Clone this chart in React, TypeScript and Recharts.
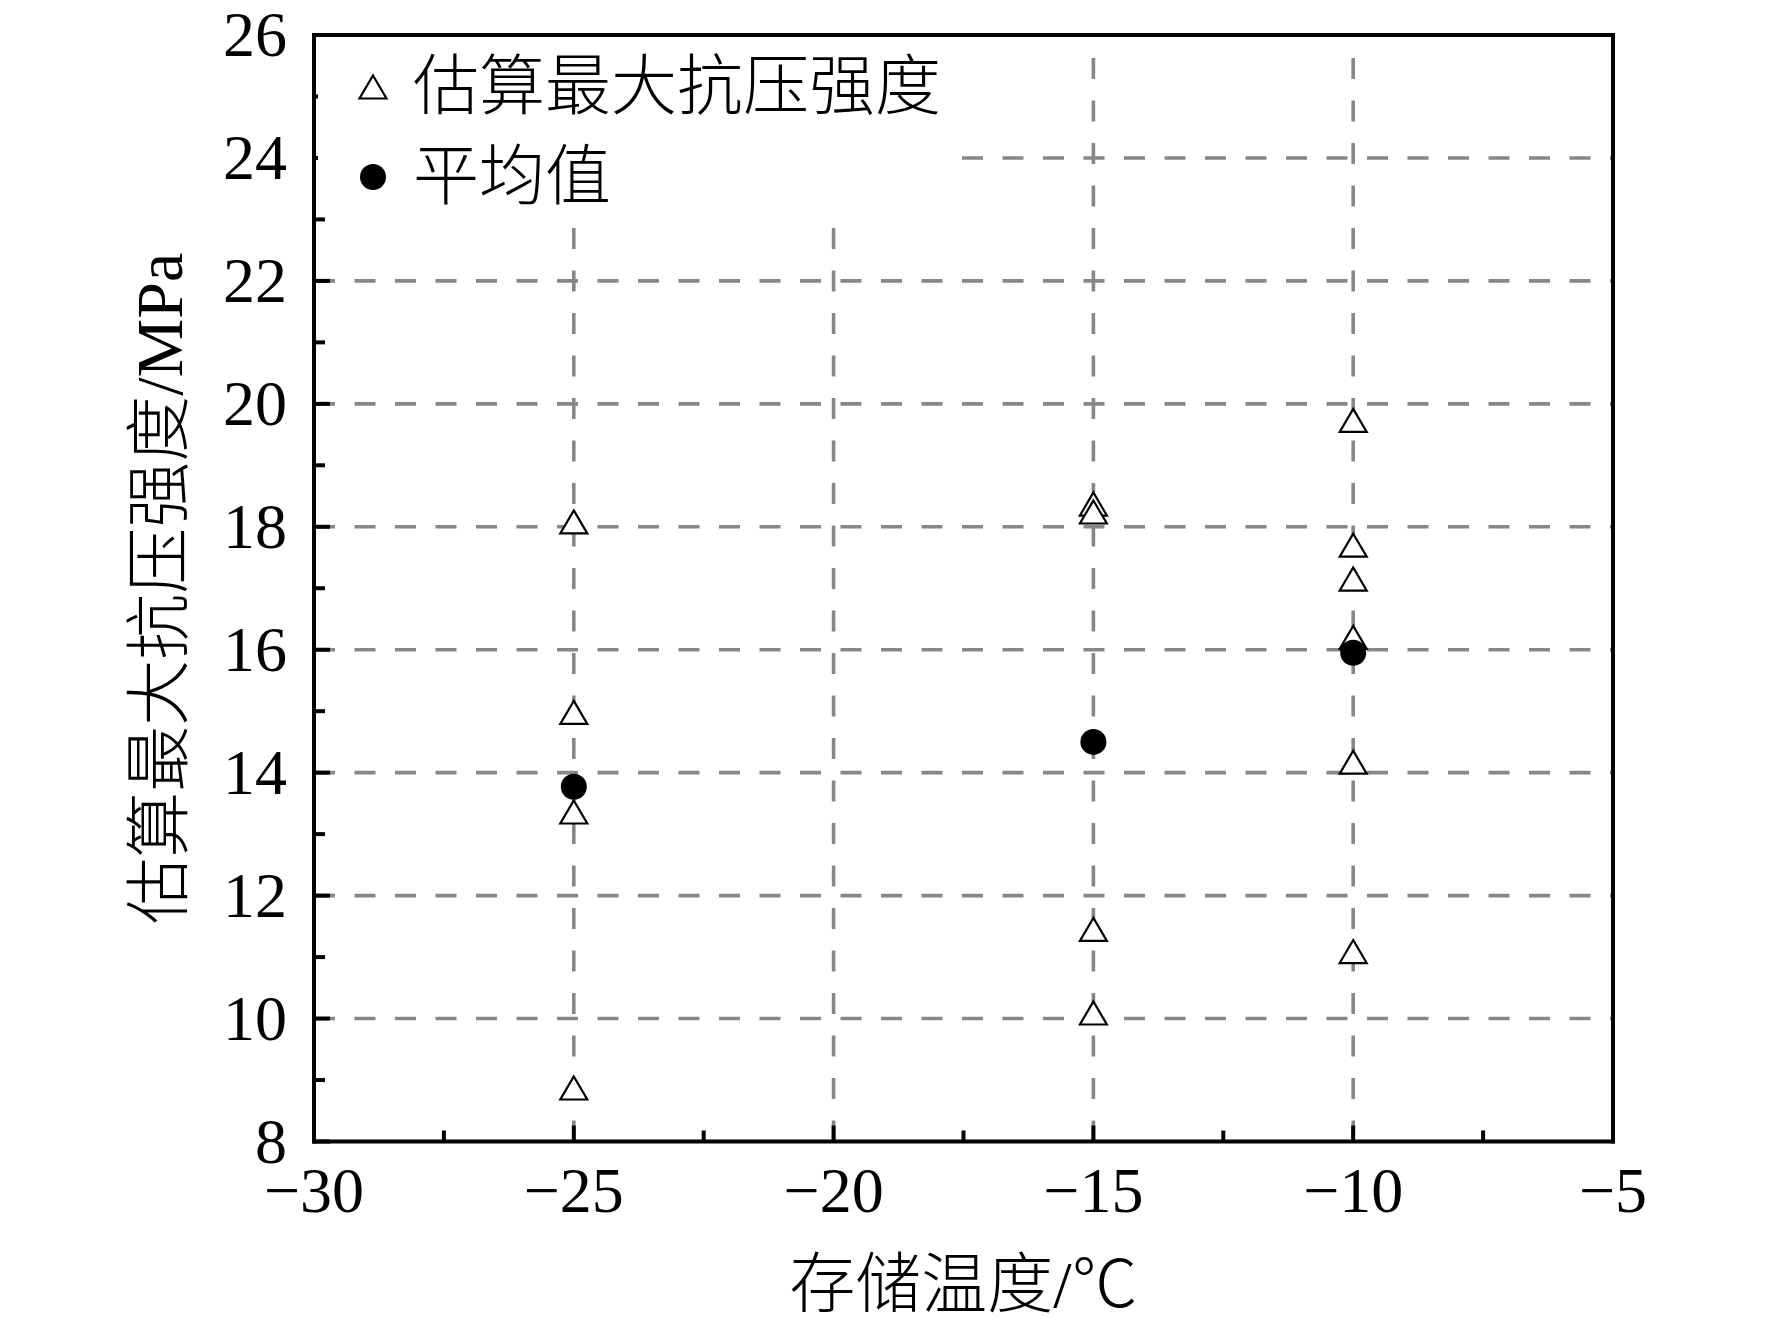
import React from "react";
import {
  ScatterChart,
  Scatter,
  XAxis,
  YAxis,
  ReferenceLine,
  Legend,
} from "recharts";

// ---- data ----
const seriesNames = ["估算最大抗压强度", "平均值"];
const estTemps = [-25, -25, -25, -25, -15, -15, -15, -15, -10, -10, -10, -10, -10, -10];
const estStrength = [18.08, 14.98, 13.36, 8.87, 18.37, 18.24, 11.45, 10.09, 19.73, 17.7, 17.15, 16.2, 14.17, 11.09];
const meanTemps = [-25, -15, -10];
const meanStrength = [13.77, 14.5, 15.95];

const xMajorTicks = [-30, -25, -20, -15, -10, -5];
const xMinorTicks = [-27.5, -22.5, -17.5, -12.5, -7.5];
const yMajorTicks = [8, 10, 12, 14, 16, 18, 20, 22, 24, 26];
const yMinorTicks = [9, 11, 13, 15, 17, 19, 21, 23, 25];
const xGridValues = [-25, -20, -15, -10];
const yGridValues = [10, 12, 14, 16, 18, 20, 22, 24];

const xTitle = "存储温度/℃";
const yTitle = "估算最大抗压强度/MPa";

const estData = estTemps.map((t, i) => ({ t, s: estStrength[i] }));
const meanData = meanTemps.map((t, i) => ({ t, s: meanStrength[i] }));

const FONT_NUM = "'Liberation Serif', 'Times New Roman', serif";
const FONT_TEXT = "'Liberation Serif', 'Noto Sans CJK SC', serif";
const GRID = "#878787";

const fmt = (v: number) => (v < 0 ? "\u2212" + Math.abs(v) : String(v));

const triPath = (cx: number, cy: number, w = 27, h = 23) =>
  `M${cx},${cy - h / 2} L${cx + w / 2},${cy + h / 2} L${cx - w / 2},${cy + h / 2} Z`;

const TriangleShape = (props: any) => {
  const { cx, cy } = props;
  if (cx == null || cy == null) return null;
  return <path d={triPath(cx, cy)} fill="#fff" stroke="#000" strokeWidth={2.2} strokeLinejoin="miter" />;
};

const CircleShape = (props: any) => {
  const { cx, cy } = props;
  if (cx == null || cy == null) return null;
  return <circle cx={cx} cy={cy} r={13} fill="#000" />;
};

const XTick = (props: any) => {
  const { x, y, payload } = props;
  const major = xMajorTicks.includes(payload.value);
  return (
    <g>
      <line x1={x} y1={y} x2={x} y2={y - (major ? 16 : 11)} stroke="#000" strokeWidth={4} />
      {major && (
        <text x={x} y={y + 70} textAnchor="middle" fontFamily={FONT_NUM} fontSize={64} fill="#000">
          {fmt(payload.value)}
        </text>
      )}
    </g>
  );
};

const YTick = (props: any) => {
  const { x, y, payload } = props;
  const major = yMajorTicks.includes(payload.value);
  return (
    <g>
      <line x1={x} y1={y} x2={x + (major ? 16 : 11)} y2={y} stroke="#000" strokeWidth={4} />
      {major && (
        <text x={x - 27} y={y + 21} textAnchor="end" fontFamily={FONT_NUM} fontSize={64} fill="#000">
          {fmt(payload.value)}
        </text>
      )}
    </g>
  );
};

const XTitle = (props: any) => {
  const vb = props.viewBox || {};
  const cx = vb.x + vb.width / 2;
  return (
    <text x={cx} y={vb.y + 165} textAnchor="middle" fontFamily={FONT_TEXT} fontSize={66} fontWeight={300} fill="#000">
      {xTitle}
    </text>
  );
};

const YTitle = (props: any) => {
  const vb = props.viewBox || {};
  const bx = vb.x - 32;
  const cy = vb.y + vb.height / 2;
  return (
    <text
      x={bx}
      y={cy}
      transform={`rotate(-90, ${bx}, ${cy})`}
      textAnchor="middle"
      fontFamily={FONT_TEXT}
      fontSize={66}
      fontWeight={300}
      fill="#000"
    >
      {yTitle}
    </text>
  );
};

const LegendContent = () => (
  <svg width={640} height={178} style={{ display: "block" }}>
    <path d={triPath(55, 49)} fill="#fff" stroke="#000" strokeWidth={2.2} />
    <text x={95} y={71} fontFamily={FONT_TEXT} fontSize={66} fontWeight={300} fill="#000">
      {seriesNames[0]}
    </text>
    <circle cx={55} cy={139} r={13} fill="#000" />
    <text x={95} y={161} fontFamily={FONT_TEXT} fontSize={66} fontWeight={300} fill="#000">
      {seriesNames[1]}
    </text>
  </svg>
);

export default function App() {
  const xTicks = [...xMajorTicks, ...xMinorTicks].sort((a, b) => a - b);
  const yTicks = [...yMajorTicks, ...yMinorTicks].sort((a, b) => a - b);
  return (
    <div style={{ position: "absolute", left: 0, top: 0, background: "#fff" }}>
      <ScatterChart width={1772} height={1325} margin={{ top: 35, right: 159, bottom: 83.5, left: 214 }}>
        <XAxis
          type="number"
          dataKey="t"
          domain={[-30, -5]}
          ticks={xTicks}
          interval={0}
          tickSize={0}
          tickMargin={0}
          tickLine={false}
          tick={<XTick />}
          height={100}
          axisLine={{ stroke: "#000", strokeWidth: 4, strokeLinecap: "square" }}
          allowDataOverflow
          label={<XTitle />}
        />
        <YAxis
          type="number"
          dataKey="s"
          domain={[8, 26]}
          ticks={yTicks}
          interval={0}
          tickSize={0}
          tickMargin={0}
          tickLine={false}
          tick={<YTick />}
          width={100}
          axisLine={{ stroke: "#000", strokeWidth: 4, strokeLinecap: "square" }}
          allowDataOverflow
          label={<YTitle />}
        />
        {yGridValues.map((v) => (
          <ReferenceLine key={"h" + v} y={v} stroke={GRID} strokeWidth={3.6} strokeDasharray="21 19.5" />
        ))}
        {xGridValues.map((v) => (
          <ReferenceLine key={"v" + v} x={v} stroke={GRID} strokeWidth={3.6} strokeDasharray="21 21.5" />
        ))}
        <ReferenceLine y={26} stroke="#000" strokeWidth={4} strokeLinecap="square" />
        <ReferenceLine x={-5} stroke="#000" strokeWidth={4} strokeLinecap="square" />
        <Scatter name={seriesNames[0]} data={estData} shape={TriangleShape} isAnimationActive={false} />
        <Scatter name={seriesNames[1]} data={meanData} shape={CircleShape} isAnimationActive={false} />
        <Legend
          layout="horizontal"
          verticalAlign="middle"
          align="center"
          content={<LegendContent />}
          wrapperStyle={{ left: 318, top: 38, width: 640, height: 178, backgroundColor: "#fff", margin: 0, padding: 0 }}
        />
      </ScatterChart>
    </div>
  );
}
